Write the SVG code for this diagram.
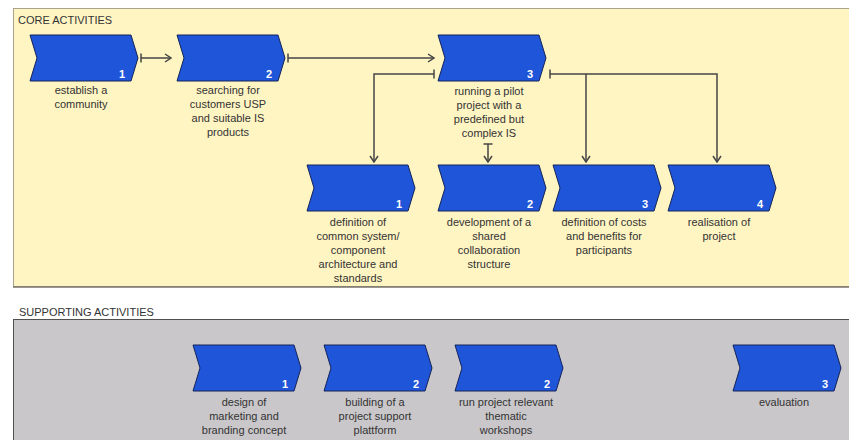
<svg xmlns="http://www.w3.org/2000/svg" width="849" height="440" viewBox="0 0 849 440">
<style>
.ttl{font-family:"Liberation Sans",Arial,sans-serif;font-size:11px;fill:#333}
.lbl{font-family:"Liberation Sans",Arial,sans-serif;font-size:11px;fill:#333;text-anchor:middle}
.num{font-family:"Liberation Sans",Arial,sans-serif;font-size:11px;font-weight:bold;fill:#fff;text-anchor:middle}
.chev{fill:#1f55d8;stroke:#14245a;stroke-width:1}
.con{fill:none;stroke:#454545;stroke-width:1.5}
</style>
<defs>
<path id="chev" d="M0,0 L101,0 L108,23 L101,46 L0,46 L7,23 Z"/>
<marker id="arr" markerUnits="userSpaceOnUse" viewBox="0 0 8 10" markerWidth="8" markerHeight="10" refX="7" refY="5" orient="auto">
<path d="M1,1 L7,5 L1,9" fill="none" stroke="#454545" stroke-width="1.5"/>
</marker>
<marker id="tee" markerUnits="userSpaceOnUse" viewBox="0 0 4 10" markerWidth="4" markerHeight="10" refX="2" refY="5" orient="auto">
<path d="M2,0.5 L2,9.5" fill="none" stroke="#454545" stroke-width="1.5"/>
</marker>
</defs>
<rect x="0" y="0" width="849" height="440" fill="#fff"/>
<g id="core-panel">
<rect x="13.5" y="8.5" width="840" height="278" fill="#fff5c3" stroke="#a8a38a" stroke-width="1"/>
<line x1="13" y1="287" x2="849" y2="287" stroke="#77746a" stroke-width="1.5"/>
<text class="ttl" x="18" y="24">CORE ACTIVITIES</text>
</g>
<g id="support-panel">
<rect x="13.5" y="319.5" width="840" height="130" fill="#c9c7ca" stroke="#505050" stroke-width="1"/>
<text class="ttl" x="19" y="316">SUPPORTING ACTIVITIES</text>
</g>
<g id="connectors">
<path class="con" d="M141,58 L171,58" marker-start="url(#tee)" marker-end="url(#arr)"/>
<path class="con" d="M288,58 L434,58" marker-start="url(#tee)" marker-end="url(#arr)"/>
<path class="con" d="M434,74 L374,74 L374,162" marker-start="url(#tee)" marker-end="url(#arr)"/>
<path class="con" d="M488,144 L488,162" marker-start="url(#tee)" marker-end="url(#arr)"/>
<path class="con" d="M550,74 L717,74 L717,162" marker-start="url(#tee)" marker-end="url(#arr)"/>
<path class="con" d="M586,74 L586,162" marker-end="url(#arr)"/>
</g>
<g id="c1">
<use href="#chev" class="chev" x="30" y="35"/>
<text class="num" x="122" y="78">1</text>
<text class="lbl" x="81" y="94">establish a<tspan x="81" dy="14">community</tspan></text>
</g>
<g id="c2">
<use href="#chev" class="chev" x="177" y="35"/>
<text class="num" x="269" y="78">2</text>
<text class="lbl" x="228" y="94">searching for<tspan x="228" dy="14">customers USP</tspan><tspan x="228" dy="14">and suitable IS</tspan><tspan x="228" dy="14">products</tspan></text>
</g>
<g id="c3">
<use href="#chev" class="chev" x="438" y="35"/>
<text class="num" x="530" y="78">3</text>
<text class="lbl" x="489" y="95">running a pilot<tspan x="489" dy="14">project with a</tspan><tspan x="489" dy="14">predefined but</tspan><tspan x="489" dy="14">complex IS</tspan></text>
</g>
<g id="d1">
<use href="#chev" class="chev" x="307" y="165"/>
<text class="num" x="399" y="208">1</text>
<text class="lbl" x="358" y="226">definition of<tspan x="358" dy="14">common system/</tspan><tspan x="358" dy="14">component</tspan><tspan x="358" dy="14">architecture and</tspan><tspan x="358" dy="14">standards</tspan></text>
</g>
<g id="d2">
<use href="#chev" class="chev" x="438" y="165"/>
<text class="num" x="530" y="208">2</text>
<text class="lbl" x="489" y="226">development of a<tspan x="489" dy="14">shared</tspan><tspan x="489" dy="14">collaboration</tspan><tspan x="489" dy="14">structure</tspan></text>
</g>
<g id="d3">
<use href="#chev" class="chev" x="553" y="165"/>
<text class="num" x="645" y="208">3</text>
<text class="lbl" x="604" y="226">definition of costs<tspan x="604" dy="14">and benefits for</tspan><tspan x="604" dy="14">participants</tspan></text>
</g>
<g id="d4">
<use href="#chev" class="chev" x="668" y="165"/>
<text class="num" x="760" y="208">4</text>
<text class="lbl" x="719" y="226">realisation of<tspan x="719" dy="14">project</tspan></text>
</g>
<g id="s1">
<use href="#chev" class="chev" x="193" y="345"/>
<text class="num" x="285" y="388">1</text>
<text class="lbl" x="244" y="406">design of<tspan x="244" dy="14">marketing and</tspan><tspan x="244" dy="14">branding concept</tspan></text>
</g>
<g id="s2">
<use href="#chev" class="chev" x="324" y="345"/>
<text class="num" x="416" y="388">2</text>
<text class="lbl" x="375" y="406">building of a<tspan x="375" dy="14">project support</tspan><tspan x="375" dy="14">plattform</tspan></text>
</g>
<g id="s3">
<use href="#chev" class="chev" x="455" y="345"/>
<text class="num" x="547" y="388">2</text>
<text class="lbl" x="506" y="406">run project relevant<tspan x="506" dy="14">thematic</tspan><tspan x="506" dy="14">workshops</tspan></text>
</g>
<g id="s4">
<use href="#chev" class="chev" x="733" y="345"/>
<text class="num" x="825" y="388">3</text>
<text class="lbl" x="784" y="406">evaluation</text>
</g>
</svg>
